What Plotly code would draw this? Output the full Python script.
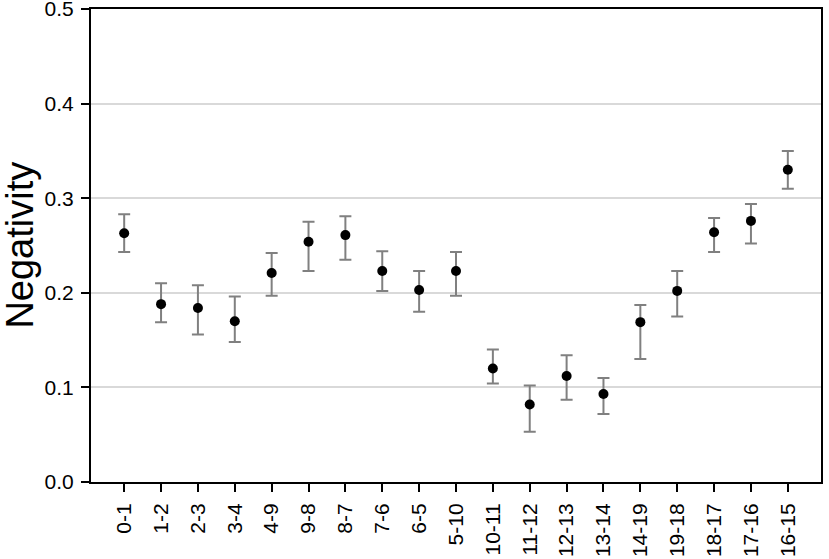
import plotly.graph_objects as go

categories = ["0-1", "1-2", "2-3", "3-4", "4-9", "9-8", "8-7", "7-6", "6-5", "5-10",
              "10-11", "11-12", "12-13", "13-14", "14-19", "19-18", "18-17", "17-16", "16-15"]
mean = [0.263, 0.188, 0.184, 0.170, 0.221, 0.254, 0.261, 0.223, 0.203, 0.223,
        0.120, 0.082, 0.112, 0.093, 0.169, 0.202, 0.264, 0.276, 0.330]
upper = [0.283, 0.210, 0.208, 0.196, 0.242, 0.275, 0.281, 0.244, 0.223, 0.243,
         0.140, 0.102, 0.134, 0.110, 0.187, 0.223, 0.279, 0.294, 0.350]
lower = [0.243, 0.169, 0.156, 0.148, 0.197, 0.223, 0.235, 0.202, 0.180, 0.197,
         0.104, 0.053, 0.087, 0.072, 0.130, 0.175, 0.243, 0.252, 0.310]
y_ticks = [0.0, 0.1, 0.2, 0.3, 0.4, 0.5]
y_tick_labels = ["0.0", "0.1", "0.2", "0.3", "0.4", "0.5"]
y_title = "Negativity"

err_plus = [u - m for u, m in zip(upper, mean)]
err_minus = [m - l for m, l in zip(mean, lower)]

fig = go.Figure()
fig.add_trace(go.Scatter(
    x=categories, y=mean, mode="markers",
    marker=dict(color="black", size=10),
    error_y=dict(type="data", symmetric=False, array=err_plus, arrayminus=err_minus,
                 color="#808080", thickness=2, width=6),
    showlegend=False,
))

font_family = "Liberation Sans, Arial, sans-serif"
fig.update_layout(
    width=829, height=559,
    margin=dict(l=91, r=8, t=9, b=77),
    paper_bgcolor="white", plot_bgcolor="white",
    font=dict(family=font_family, color="black"),
)
fig.update_xaxes(
    type="category", range=[-0.9, 18.9],
    tickangle=-90, tickfont=dict(size=21, family=font_family),
    ticks="outside", ticklen=8, tickwidth=2, tickcolor="black",
    ticklabelstandoff=3,
    showline=True, linecolor="black", linewidth=2, mirror=True,
    showgrid=False, zeroline=False, automargin=False,
)
fig.update_yaxes(
    range=[0, 0.5], tickvals=y_ticks, ticktext=y_tick_labels,
    tickfont=dict(size=21, family=font_family),
    ticks="outside", ticklen=8, tickwidth=2, tickcolor="black",
    ticklabelstandoff=3, ticklabeloverflow="allow",
    showline=True, linecolor="black", linewidth=2, mirror=True,
    showgrid=True, gridcolor="#d9d9d9", gridwidth=1.5, zeroline=False,
    automargin=False,
)
fig.add_annotation(
    text=y_title, textangle=-90, showarrow=False,
    xref="paper", yref="paper", x=-0.0985, y=0.5,
    xanchor="center", yanchor="middle", borderpad=0,
    font=dict(size=38, family=font_family, color="black"),
)

fig.write_html("out.html", config={"displayModeBar": False},
               post_script="document.body.style.margin='0px';")
